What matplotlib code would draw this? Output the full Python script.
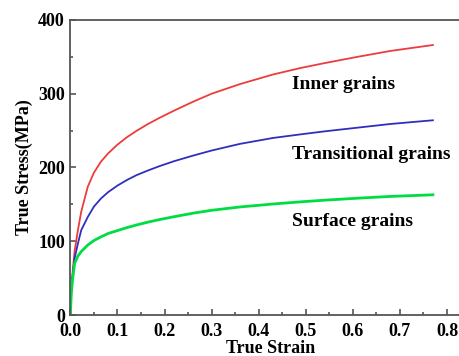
import numpy as np
import matplotlib
matplotlib.use('Agg')
import matplotlib.pyplot as plt
from matplotlib.ticker import MultipleLocator

# Values (true strain, true stress in MPa)
strain = [0, 0.002, 0.005, 0.009, 0.016, 0.023, 0.037, 0.05, 0.065, 0.08, 0.1, 0.12,
          0.14, 0.165, 0.19, 0.22, 0.26, 0.3, 0.36, 0.43, 0.49, 0.54, 0.61, 0.68, 0.77]
inner = [0, 35, 60, 87, 115, 140, 174, 193, 208, 219, 231, 241,
         249.5, 259, 267.5, 277, 289, 300, 313, 326, 335, 341.5, 350, 358, 366]
transitional = [0, 33, 55, 77, 97, 115, 133, 147, 158, 166.5, 175.5, 183,
                189.5, 196, 202, 208.5, 216, 223, 232, 240, 245, 249, 254, 259, 264]
surface = [0, 30, 50, 70, 80, 86, 95, 101, 106, 110.5, 114.5, 118.5,
           122, 126, 129.5, 133.3, 138, 142, 146.5, 150.5, 153.5, 155.7, 158.4, 160.8, 163]

labels = ['Inner grains', 'Transitional grains', 'Surface grains']
label_pos = [(0.47, 312), (0.47, 217), (0.47, 126.5)]

plt.rcParams['font.family'] = ['Liberation Serif', 'DejaVu Serif']
plt.rcParams['font.weight'] = 'bold'

fig = plt.figure(figsize=(4.6, 3.56), dpi=100)
ax = fig.add_axes([0.153, 0.115, 1.023 - 0.153, 0.829])

ax.plot(strain, inner, color='#ee3b3b', lw=1.3)
ax.plot(strain, transitional, color='#2f2fbf', lw=1.3)
ax.plot(strain, surface, color='#00dd44', lw=2.0)

for txt, (x, y) in zip(labels, label_pos):
    ax.text(x, y, txt, fontsize=14, fontweight='bold', va='center', ha='left')

ax.set_xlim(0, 0.85)
ax.set_ylim(0, 400)
ax.xaxis.set_major_locator(MultipleLocator(0.1))
ax.xaxis.set_minor_locator(MultipleLocator(0.05))
ax.yaxis.set_major_locator(MultipleLocator(100))
ax.yaxis.set_minor_locator(MultipleLocator(50))
ax.set_xticks(np.arange(0, 0.81, 0.1))
ax.set_xticklabels(['%.1f' % v for v in np.arange(0, 0.81, 0.1)])
ax.tick_params(which='both', direction='in', colors='#555555', labelcolor='black',
               labelsize=13, width=1.2)
ax.tick_params(which='major', length=4)
ax.tick_params(which='minor', length=2.5)
ax.tick_params(axis='x', pad=6)
ax.tick_params(axis='y', pad=4)
for lab in ax.get_xticklabels() + ax.get_yticklabels():
    lab.set_fontweight('bold')
for s in ax.spines.values():
    s.set_color('#555555')
    s.set_linewidth(1.3)

ax.set_xlabel('True Strain', fontsize=13, fontweight='bold', labelpad=0)
ax.set_ylabel('True Stress(MPa)', fontsize=13, fontweight='bold', labelpad=4)

fig.savefig('out.png', dpi=100)
